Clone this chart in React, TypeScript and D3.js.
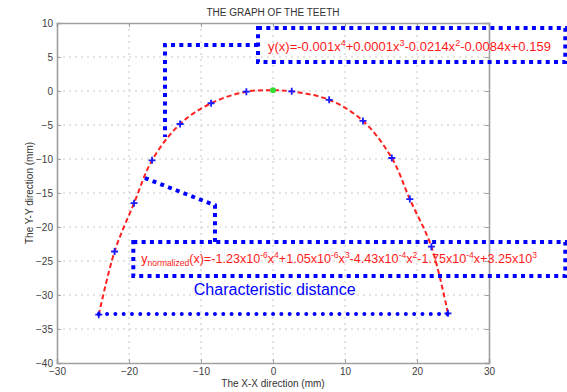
import { useEffect, useRef } from 'react';
import * as d3 from 'd3';

// measured tooth points (mm)
const pointX = [-24.2, -22.0, -19.3, -16.8, -12.9, -8.6, -3.7, 2.6, 7.8, 12.5, 16.5, 19.0, 22.0, 24.3];
const pointY = [-32.9, -23.6, -16.5, -10.2, -4.85, -1.8, -0.1, -0.05, -1.3, -4.4, -9.85, -15.9, -22.9, -32.7];
const centerPoint = [0, 0.1];

const xTicks = [-30, -20, -10, 0, 10, 20, 30];
const yTicks = [10, 5, 0, -5, -10, -15, -20, -25, -30, -35, -40];

// annotation boxes / connectors in data units
const topBox = [-2.08, 40.6, 9.26, 4.26]; // x0, x1, y0, y1
const topConnector = [[-2.08, 6.76], [-15.0, 6.76], [-15.0, -6.76]];
const lowBox = [-19.4, 40.6, -22.2, -27.2];
const lowConnector = [[-17.8, -12.8], [-8.06, -16.8], [-8.06, -22.2]];
const baseLineY = -32.8;

const FONT = 'Liberation Sans, Arial, Helvetica, sans-serif';

export default function App() {
  const svgRef = useRef<SVGSVGElement | null>(null);

  useEffect(() => {
    if (!svgRef.current) return;
    const root = d3.select(svgRef.current);
    root.selectAll('*').remove();

    const W = 567, H = 392;
    const margin = { top: 23, right: 78, bottom: 29, left: 57 };
    const width = W - margin.left - margin.right;
    const height = H - margin.top - margin.bottom;

    root.attr('width', W).attr('height', H);

    const x = d3.scaleLinear().domain([-30, 30]).range([margin.left, margin.left + width]);
    const y = d3.scaleLinear().domain([-40, 10]).range([margin.top + height, margin.top]);

    const svg = root.append('g');

    // grid
    svg.append('g')
      .selectAll('line')
      .data(xTicks.slice(1, -1))
      .enter()
      .append('line')
      .attr('x1', d => x(d)).attr('x2', d => x(d))
      .attr('y1', y(10)).attr('y2', y(-40))
      .attr('stroke', '#c8c8c8')
      .attr('stroke-width', 1)
      .attr('stroke-dasharray', '2 4');

    svg.append('g')
      .selectAll('line')
      .data(yTicks.slice(1, -1))
      .enter()
      .append('line')
      .attr('x1', x(-30)).attr('x2', x(30))
      .attr('y1', d => y(d)).attr('y2', d => y(d))
      .attr('stroke', '#c8c8c8')
      .attr('stroke-width', 1)
      .attr('stroke-dasharray', '2 4');

    // axes
    const xAxis = d3.axisBottom(x).tickValues(xTicks).tickSize(-4).tickPadding(5);
    const yAxis = d3.axisLeft(y).tickValues(yTicks).tickSize(-4).tickPadding(4);

    const styleAxis = (g: any) => {
      g.select('.domain').attr('stroke', '#a0a0a0').attr('stroke-width', 1.6);
      g.selectAll('.tick line').attr('stroke', '#a0a0a0');
      g.selectAll('.tick text')
        .attr('fill', '#404040')
        .attr('font-size', '10px')
        .attr('font-family', FONT);
    };

    svg.append('g')
      .attr('transform', `translate(0,${y(-40)})`)
      .call(xAxis)
      .call(styleAxis);

    svg.append('g')
      .attr('transform', `translate(${x(-30)},0)`)
      .call(yAxis)
      .call(styleAxis);

    // top and right border with inner ticks
    svg.append('g')
      .attr('transform', `translate(0,${y(10)})`)
      .call(d3.axisTop(x).tickValues(xTicks).tickSize(-4).tickFormat(() => ''))
      .call(styleAxis);
    svg.append('g')
      .attr('transform', `translate(${x(30)},0)`)
      .call(d3.axisRight(y).tickValues(yTicks).tickSize(-4).tickFormat(() => ''))
      .call(styleAxis);

    // title & labels
    svg.append('text')
      .attr('x', x(0)).attr('y', 16)
      .attr('text-anchor', 'middle')
      .attr('font-family', FONT).attr('font-size', '10px')
      .attr('fill', '#333')
      .text('THE GRAPH OF THE TEETH');

    svg.append('text')
      .attr('x', x(0)).attr('y', 387)
      .attr('text-anchor', 'middle')
      .attr('font-family', FONT).attr('font-size', '10px')
      .attr('fill', '#333')
      .text('The X-X direction (mm)');

    svg.append('text')
      .attr('transform', `translate(33,${y(-15)}) rotate(-90)`)
      .attr('text-anchor', 'middle')
      .attr('font-family', FONT).attr('font-size', '10px')
      .attr('fill', '#333')
      .text('The Y-Y direction (mm)');

    // fitted curve
    const pts: [number, number][] = pointX.map((px, i) => [px, pointY[i]]);
    const curvePts = [...pts.slice(0, 7), [centerPoint[0], centerPoint[1]] as [number, number], ...pts.slice(7)];
    const line = d3.line<[number, number]>()
      .x(d => x(d[0]))
      .y(d => y(d[1]))
      .curve(d3.curveCatmullRom.alpha(0.5));

    svg.append('path')
      .datum(curvePts)
      .attr('d', line)
      .attr('fill', 'none')
      .attr('stroke', '#ff2020')
      .attr('stroke-width', 2)
      .attr('stroke-dasharray', '5 3');

    // markers
    svg.append('g')
      .selectAll('path')
      .data(pts)
      .enter()
      .append('path')
      .attr('d', d => {
        const cx = x(d[0]), cy = y(d[1]), s = 3.5;
        return `M${cx - s},${cy}H${cx + s}M${cx},${cy - s}V${cy + s}`;
      })
      .attr('stroke', '#1a1aff')
      .attr('stroke-width', 1.8);

    svg.append('circle')
      .attr('cx', x(centerPoint[0]))
      .attr('cy', y(centerPoint[1]))
      .attr('r', 3)
      .attr('fill', '#33dd33');

    // annotations
    const dotted = (sel: any) => sel
      .attr('fill', 'none')
      .attr('stroke', '#0000ff')
      .attr('stroke-width', 4)
      .attr('stroke-dasharray', '4 4.3');

    const boxPath = (b: number[]) =>
      `M${x(b[0])},${y(b[2])}H${x(b[1])}V${y(b[3])}H${x(b[0])}Z`;

    svg.append('path').attr('d', boxPath(topBox)).call(dotted);
    svg.append('path').attr('d', boxPath(lowBox)).call(dotted);

    const poly = d3.line<number[]>().x(d => x(d[0])).y(d => y(d[1]));
    svg.append('path').attr('d', poly(topConnector)).call(dotted);
    svg.append('path').attr('d', poly(lowConnector)).call(dotted);

    // characteristic distance line (round dots)
    svg.append('line')
      .attr('x1', x(pointX[0])).attr('x2', x(pointX[pointX.length - 1]))
      .attr('y1', y(baseLineY)).attr('y2', y(baseLineY))
      .attr('stroke', '#0000ff')
      .attr('stroke-width', 4)
      .attr('stroke-linecap', 'round')
      .attr('stroke-dasharray', '0 8.3');

    // equations
    const addRuns = (t: any, runs: [string, string][], small: string) => {
      runs.forEach(([s, kind]) => {
        const ts = t.append('tspan').text(s);
        if (kind === 'sup') ts.attr('font-size', small).attr('baseline-shift', '5');
        if (kind === 'sub') ts.attr('font-size', small).attr('baseline-shift', '-3');
      });
    };

    const eq1 = svg.append('text')
      .attr('x', x(topBox[0]) + 10)
      .attr('y', y(topBox[2]) + 23)
      .attr('font-family', FONT)
      .attr('font-size', '13px')
      .attr('fill', '#ff1a1a');

    addRuns(eq1, [
      ['y(x)=-0.001x', ''], ['4', 'sup'],
      ['+0.0001x', ''], ['3', 'sup'],
      ['-0.0214x', ''], ['2', 'sup'],
      ['-0.0084x+0.159', ''],
    ], '9px');

    const eq2 = svg.append('text')
      .attr('x', x(lowBox[0]) + 8)
      .attr('y', y(lowBox[2]) + 21)
      .attr('font-family', FONT)
      .attr('font-size', '12.6px')
      .attr('fill', '#ff1a1a');

    addRuns(eq2, [
      ['y', ''], ['normalized', 'sub'],
      ['(x)=-1.23x10', ''], ['-6', 'sup'], ['x', ''], ['4', 'sup'],
      ['+1.05x10', ''], ['-6', 'sup'], ['x', ''], ['3', 'sup'],
      ['-4.43x10', ''], ['-4', 'sup'], ['x', ''], ['2', 'sup'],
      ['-1.75x10', ''], ['-4', 'sup'], ['x+3.25x10', ''], ['3', 'sup'],
    ], '8.5px');

    svg.append('text')
      .attr('x', x(-11.0))
      .attr('y', y(-30.0))
      .attr('font-family', FONT)
      .attr('font-size', '16px')
      .attr('fill', '#0000ff')
      .text('Characteristic distance');
  }, []);

  return (
    <svg
      ref={svgRef}
      style={{ position: 'absolute', left: 0, top: 0, display: 'block', background: '#fff' }}
    />
  );
}
